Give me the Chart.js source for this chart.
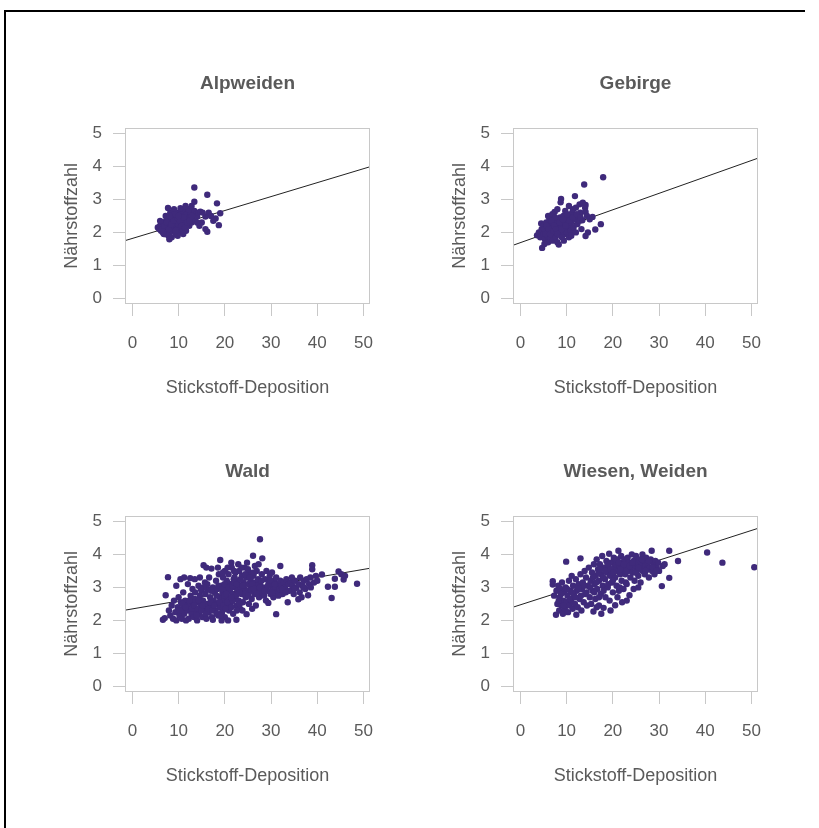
<!DOCTYPE html>
<html>
<head>
<meta charset="utf-8">
<script src="https://cdn.jsdelivr.net/npm/chart.js@4"></script>
<style>
  html, body { margin: 0; background: #fff; overflow: hidden; }
  body { width: 819px; height: 828px; position: relative; }
  #frame { position: absolute; left: 0; top: 0; }
  canvas { position: absolute; }
</style>
</head>
<body>
<svg id="frame" width="819" height="828"><path d="M805 11 H5 V828" fill="none" stroke="#000" stroke-width="2"/></svg>
<canvas id="c1" width="370" height="370" style="left:20px;top:50px"></canvas>
<canvas id="c2" width="370" height="370" style="left:408px;top:50px"></canvas>
<canvas id="c3" width="370" height="370" style="left:20px;top:438px"></canvas>
<canvas id="c4" width="370" height="370" style="left:408px;top:438px"></canvas>
<script>
const panelTitles = ['Alpweiden', 'Gebirge', 'Wald', 'Wiesen, Weiden'];
const xAxisTitle = 'Stickstoff-Deposition';
const yAxisTitle = 'Nährstoffzahl';
const xTicks = [0, 10, 20, 30, 40, 50];
const yTicks = [0, 1, 2, 3, 4, 5];
const xRange = [-1.6, 51.4];
const yRange = [-0.17, 5.17];

// regression line, y value at both ends of xRange
const fitAlpweiden = [1.75, 3.99];
const fitGebirge = [1.61, 4.25];
const fitWald = [2.31, 3.58];
const fitWiesen = [2.40, 4.79];

// [Stickstoff-Deposition, Nährstoffzahl]
const alpweiden = [
  [5.5,2.15],[5.8,2.1],[6.0,2.2],[6.2,2.05],[6.3,2.25],[6.5,2.15],[6.6,2.0],[6.8,2.3],[7.0,2.1],[7.0,1.95],
  [7.2,2.2],[7.3,2.35],[7.5,2.05],[7.5,2.25],[7.7,2.15],[7.8,1.9],[7.9,2.4],[8.0,2.3],[8.0,2.0],[8.2,2.2],
  [8.3,2.1],[8.5,2.35],[8.5,1.85],[8.6,2.45],[8.7,2.05],[8.8,2.25],[9.0,2.15],[9.0,2.4],[9.2,2.3],[9.3,1.95],
  [9.4,2.5],[9.5,2.2],[9.6,2.1],[9.8,2.35],[9.9,2.6],[10.0,2.25],[10.1,2.0],[10.2,2.45],[10.4,2.15],[10.5,2.55],
  [10.6,2.3],[10.8,2.4],[10.9,2.1],[11.0,2.65],[11.2,2.25],[11.3,2.5],[11.5,2.35],[11.6,2.05],[11.8,2.55],[12.0,2.4],
  [12.1,2.7],[12.3,2.2],[12.5,2.5],[12.6,2.6],[12.8,2.3],[13.0,2.45],[13.2,2.55],[13.4,2.65],[13.5,2.4],[13.8,2.55],
  [14.0,2.48],[14.3,2.6],[14.7,2.63],[12.2,2.7],[10.4,2.73],[13.4,2.93],[13.4,3.36],[16.2,3.14],[18.3,2.88],[7.7,2.74],
  [18.7,2.22],[16.2,2.02],[15.8,2.1],[8.0,1.79],[19.0,2.58],[18.0,2.42],[15.8,2.48],[17.5,2.35],[17.0,2.5],[16.5,2.6],
  [15.0,2.3],[14.5,2.2],[11.0,1.95],[9.8,1.9],[6.0,2.35],[7.2,2.5],[8.2,2.6],[9.0,2.7],[12.8,2.8],[11.5,2.8],[6.8,1.95],
  [6.4,2.1],[6.9,2.2],[7.4,2.3],[7.9,2.1],[8.4,2.25],[8.9,2.35],[9.4,2.05],[9.7,2.45],[10.3,2.35],[10.7,2.2],
  [11.1,2.45],[11.4,2.15],[11.9,2.3],[12.4,2.35],[9.1,2.55],[8.1,2.5],[10.0,2.5],[12.9,2.5],[14.0,2.3],[15.2,2.6]
];

const gebirge = [
  [3.6,1.91],[4.0,2.0],[4.3,1.85],[4.5,2.27],[4.6,2.1],[4.7,1.53],[5.0,1.95],[5.0,2.2],[5.3,1.8],[5.4,2.05],
  [5.6,2.3],[5.8,1.9],[5.9,2.15],[6.0,1.7],[6.2,2.0],[6.3,2.4],[6.5,1.85],[6.6,2.2],[6.8,2.05],[7.0,1.75],
  [7.0,2.3],[7.2,1.95],[7.4,2.62],[7.4,2.15],[7.6,1.85],[7.8,2.0],[7.9,2.35],[8.0,1.7],[8.2,2.2],[8.3,1.63],
  [8.4,2.05],[8.6,2.45],[8.7,2.91],[8.8,3.01],[8.8,1.9],[9.0,2.25],[9.1,2.1],[9.3,2.5],[9.5,1.95],[9.6,2.3],
  [9.7,2.65],[9.9,2.15],[10.0,2.0],[10.2,2.4],[10.4,2.2],[10.5,1.85],[10.7,2.5],[10.9,2.05],[11.0,2.3],[11.2,2.6],
  [11.4,2.7],[11.5,2.15],[11.8,3.1],[11.8,2.4],[12.0,2.0],[12.3,2.25],[12.5,2.5],[12.8,2.35],[13.0,2.6],[13.2,2.1],
  [13.4,2.37],[13.8,3.45],[14.0,2.75],[14.1,2.83],[14.1,2.62],[14.1,1.89],[14.4,2.5],[14.6,2.0],[15.0,2.4],[15.6,2.47],
  [16.2,2.09],[17.4,2.25],[17.9,3.67],[6.0,2.5],[6.9,2.55],[8.0,2.7],[10.5,2.8],[12.8,2.85],[5.2,1.65],[9.4,1.75],
  [11.0,1.9],[7.5,2.45],[12.0,2.75],[13.5,2.9],
  [5.1,2.1],[5.5,1.95],[5.7,2.2],[6.1,2.1],[6.4,1.95],[6.7,2.35],[7.1,2.05],[7.3,2.2],[7.7,2.1],[8.1,1.95],
  [8.5,2.3],[8.9,2.1],[9.2,2.4],[9.8,2.2],[10.1,2.55],[10.6,2.35],[11.3,2.45],[12.2,2.55],[13.0,2.45],[9.0,1.85]
];

const wald = [
  [6.6,2.02],[7.0,2.07],[7.2,2.76],[7.7,3.31],[7.9,2.3],[8.2,2.15],[8.5,2.45],[8.8,2.05],[9.0,2.6],[9.3,2.25],
  [9.5,2.0],[9.8,2.4],[10.0,2.7],[10.2,2.15],[10.5,2.55],[10.7,2.05],[10.9,2.35],[11.0,2.85],[11.2,2.2],[11.4,2.6],
  [11.6,2.0],[11.8,2.45],[12.0,3.1],[12.0,2.3],[9.5,3.05],[10.4,3.25],[11.2,3.3],[12.5,3.28],[13.5,3.25],[14.6,3.3],
  [12.2,2.05],[12.4,2.5],[12.6,2.75],[12.8,2.2],[13.0,2.95],[13.1,2.4],[13.3,2.1],[13.5,2.65],[13.6,2.85],[13.8,2.3],
  [14.0,2.0],[14.1,2.55],[14.3,3.05],[14.5,2.2],[14.6,2.75],[14.8,2.45],[15.0,2.9],[15.1,2.1],[15.3,2.6],[15.4,3.67],
  [15.5,2.35],[15.7,3.15],[15.8,2.8],[16.0,3.6],[16.0,2.05],[16.2,2.5],[16.3,2.95],[16.5,2.25],[16.6,3.3],[16.8,2.7],
  [17.0,2.4],[17.1,3.57],[17.2,2.1],[17.4,2.02],[17.4,3.0],[17.6,2.6],[17.8,2.85],[13.2,2.55],[14.4,2.6],[15.6,2.5],
  [18.0,2.3],[18.1,3.2],[18.3,2.5],[18.4,2.95],[18.6,2.15],[18.7,3.4],[18.9,2.7],[19.0,3.83],[19.0,2.4],[19.2,3.05],
  [19.4,2.25],[19.5,2.85],[19.6,3.3],[19.8,2.6],[20.0,3.5],[20.0,2.1],[20.2,2.95],[20.3,2.45],[20.5,3.15],[20.6,2.7],
  [20.8,3.4],[20.9,2.3],[21.0,2.9],[21.2,3.1],[21.3,2.55],[21.5,3.6],[21.6,2.8],[21.8,2.2],[21.9,3.25],[22.0,2.65],
  [22.2,3.0],[22.3,3.45],[22.5,2.02],[22.5,2.45],[22.7,2.9],[22.8,3.2],[23.0,2.6],[23.1,3.5],[23.3,2.35],[23.4,3.05],
  [23.6,2.8],[23.7,3.35],[23.9,2.55],[24.0,3.15],[24.2,2.95],[24.3,3.6],[24.5,2.7],[24.7,2.19],[24.7,3.3],[24.9,2.85],
  [25.0,3.1],[25.2,2.5],[25.3,3.45],[25.5,2.95],[25.6,3.2],[25.8,2.65],[26.0,3.0],[26.1,3.96],[26.2,3.35],[26.4,2.8],
  [26.6,3.15],[26.7,2.45],[26.9,3.5],[27.0,2.95],[27.2,3.25],[27.4,2.7],[27.6,4.46],[27.6,3.1],[27.8,2.85],[28.0,3.4],
  [28.1,3.88],[18.5,3.6],[19.3,2.0],[20.7,2.0],[21.4,3.75],[22.9,3.7],[23.8,2.3],[24.8,3.75],[25.9,2.35],[26.5,3.65],
  [27.3,3.7],[19.9,2.75],[21.1,2.95],[22.4,2.75],[23.5,3.0],[24.6,2.9],[25.7,2.9],[26.8,3.05],[20.4,3.2],[22.1,3.3],
  [28.3,3.0],[28.5,2.75],[28.7,3.25],[28.9,2.6],[29.0,3.5],[29.2,2.9],[29.4,2.53],[29.5,3.15],[29.7,3.35],[29.9,2.8],
  [30.0,3.05],[30.2,3.45],[30.4,2.95],[30.5,2.7],[30.7,3.2],[30.9,3.0],[31.1,2.19],[31.1,3.3],[31.3,2.85],[31.5,3.1],
  [31.8,2.95],[32.0,3.65],[32.0,3.2],[32.3,3.05],[32.5,2.8],[32.8,3.15],[33.0,3.0],[33.3,3.25],[33.6,2.55],[33.8,3.1],
  [34.0,2.9],[34.3,3.15],[34.6,3.05],[34.9,2.8],[35.2,3.2],[35.5,3.0],[35.9,2.64],[36.0,3.1],[36.3,3.3],[36.6,2.7],
  [36.8,3.05],[37.1,3.2],[37.4,2.95],[37.7,3.25],[38.0,2.76],[38.2,3.1],[38.5,3.3],[38.9,3.67],[38.9,3.55],[39.3,3.15],
  [39.7,3.35],[40.0,3.2],[41.0,3.39],[42.3,3.02],[43.1,2.68],[43.8,3.26],[43.8,3.02],[44.6,3.48],[45.2,3.4],[45.7,3.24],
  [46.0,3.35],[48.6,3.11],
  [10.3,2.3],[10.8,2.5],[11.5,2.4],[12.3,2.6],[12.9,2.35],[13.4,2.45],[13.9,2.15],[14.2,2.35],[14.9,2.3],[15.2,2.45],
  [15.9,2.2],[16.4,2.35],[16.9,2.55],[17.3,2.3],[17.7,2.45],[18.2,2.2],[18.8,2.55],[19.1,2.15],[19.7,2.45],[20.1,2.35],
  [20.6,2.55],[21.4,2.4],[21.7,2.6],[22.6,2.3],[23.2,2.5],[18.2,2.75],[18.6,3.05],[19.4,2.95],[19.9,3.1],[20.3,2.8],
  [20.9,3.0],[21.4,2.7],[21.7,3.05],[22.0,3.15],[22.6,3.1],[23.1,2.85],[23.4,3.25],[23.9,3.05],[24.4,2.8],[24.4,3.4],
  [25.1,2.75],[25.4,3.3],[25.9,3.1],[26.3,2.95],[26.9,2.8],[27.5,3.0],[27.9,3.2],[28.6,2.9],[29.3,3.05],[29.8,3.2],
  [30.3,2.85],[30.8,3.1],[31.6,2.75],[32.4,2.95],[33.2,2.85],[34.5,3.3],[35.0,2.95],[36.2,2.85],[37.0,3.0],[38.6,3.0],
  [16.2,3.1],[17.0,2.9],[15.4,3.0],[14.8,2.95],[19.6,3.45],[20.6,3.6],[22.0,3.5],[23.6,3.6],[25.0,3.55],[26.3,3.45]
];

const wiesen = [
  [7.0,3.19],[7.0,3.09],[7.3,2.75],[7.7,2.17],[7.8,2.9],[8.0,2.5],[8.2,3.05],[8.4,2.3],[8.5,2.7],[8.7,2.95],
  [8.9,2.45],[9.0,3.15],[9.2,2.2],[9.3,2.6],[9.5,2.85],[9.6,2.35],[9.8,3.0],[9.9,3.78],[10.0,2.55],[10.2,2.75],
  [10.3,2.25],[10.5,3.2],[10.6,2.45],[10.8,2.9],[11.0,2.6],[11.1,3.35],[11.3,2.35],[11.4,3.05],[11.6,2.75],[11.8,2.5],
  [12.0,3.25],[12.1,2.17],[12.2,2.9],[12.4,2.4],[12.6,3.1],[12.8,2.65],[13.0,3.4],[13.0,3.88],[13.2,2.3],[13.3,2.95],
  [13.5,3.15],[13.7,2.55],[13.9,3.5],[14.0,2.8],[14.2,3.3],[14.4,2.45],[14.6,3.05],[14.8,3.6],[15.0,2.7],[15.2,3.2],
  [15.3,2.5],[15.5,3.45],[15.6,2.9],[15.8,2.27],[15.9,3.7],[16.0,3.1],[16.2,2.65],[16.3,3.35],[16.5,3.85],[16.6,2.95],
  [16.8,3.55],[17.0,2.45],[17.0,3.2],[17.2,3.7],[17.4,2.8],[17.5,3.4],[17.7,3.95],[17.8,3.05],[18.0,2.38],[18.1,3.6],
  [18.3,3.25],[18.4,2.7],[18.6,3.8],[18.7,3.45],[18.9,3.0],[19.0,3.65],[19.2,4.02],[19.3,2.6],[19.4,3.35],[19.6,3.75],
  [19.8,3.15],[19.9,3.5],[20.0,2.85],[20.2,3.9],[20.3,3.6],[20.5,2.46],[20.5,3.3],[20.7,3.7],[20.8,3.05],[21.0,3.85],
  [21.1,3.5],[21.2,4.11],[21.3,2.9],[21.5,3.65],[21.6,3.4],[21.8,3.95],[21.9,3.2],[22.0,3.75],[22.2,3.55],[22.3,2.95],
  [22.5,3.85],[22.7,3.4],[22.8,3.65],[23.0,3.1],[23.2,3.9],[23.3,3.5],[23.5,3.75],[23.6,2.76],[23.8,3.3],[24.0,3.6],
  [24.1,4.0],[24.3,3.45],[24.5,3.8],[24.7,3.2],[24.8,3.65],[25.0,3.95],[25.2,3.5],[25.4,3.75],[25.5,3.35],[25.7,3.85],
  [25.9,3.6],[26.0,3.15],[26.2,3.7],[26.4,4.0],[26.5,3.5],[26.7,3.8],[26.9,3.4],[27.0,3.65],[27.2,3.9],[27.4,3.55],
  [27.6,3.75],[27.8,3.3],[28.0,3.6],[28.2,3.85],[28.4,4.11],[28.5,3.5],[28.8,3.7],[29.0,3.4],[29.2,3.8],[29.5,3.6],
  [29.8,3.75],[30.0,3.5],[30.6,3.04],[30.8,3.65],[31.2,3.7],[32.2,4.11],[32.2,3.29],[34.1,3.8],[40.4,4.06],[43.7,3.75],
  [50.6,3.61],[23.0,2.6],[22.0,2.55],[21.0,2.7],[19.5,2.3],[17.5,2.2],[16.5,2.4],[24.5,2.95],[25.5,3.0],
  [8.3,2.6],[8.8,2.8],[9.4,2.45],[10.1,2.95],[10.7,2.65],[11.2,2.85],[11.9,2.7],[12.5,2.95],[13.1,2.75],[13.8,3.05],
  [14.3,2.85],[15.1,3.0],[15.7,3.3],[16.4,3.15],[16.9,3.45],[17.3,3.55],[17.9,3.3],[18.4,3.5],[18.9,3.7],[19.5,3.55],
  [20.1,3.45],[20.6,3.85],[21.3,3.75],[21.7,3.55],[22.4,3.7],[22.9,3.5],[23.6,3.65],[24.2,3.75],[24.9,3.45],[25.6,3.6],
  [26.3,3.85],[27.1,3.5],[27.8,3.8],[28.6,3.6],[29.4,3.5],[20.0,3.2],[19.0,3.1],[18.0,2.9],[17.0,2.7],[16.0,2.85],
  [21.5,3.0],[22.8,3.15]
];

const fontFamily = '"Liberation Sans", Arial, sans-serif';
const textGrey = '#5a5a5a';
const tickGrey = '#c8c8c8';
const dotColor = '#3f2a7b';

// light grey frame around the plot region, like R's box()
const boxPlugin = {
  id: 'box',
  afterDatasetsDraw(chart) {
    const a = chart.chartArea;
    const ctx = chart.ctx;
    ctx.save();
    ctx.strokeStyle = tickGrey;
    ctx.lineWidth = 1;
    ctx.strokeRect(Math.round(a.left) + 0.5, Math.round(a.top) + 0.5,
                   Math.round(a.right - a.left) - 1, Math.round(a.bottom - a.top) - 1);
    ctx.restore();
  }
};

function makeChart(id, title, points, fitY) {
  const ctx = document.getElementById(id).getContext('2d');
  return new Chart(ctx, {
    type: 'scatter',
    data: {
      datasets: [{
        data: points.map(([x, y]) => ({x: x, y: y})),
        backgroundColor: dotColor,
        borderWidth: 0,
        pointRadius: 3.2
      }, {
        data: xRange.map((x, i) => ({x: x, y: fitY[i]})),
        showLine: true,
        borderColor: '#222',
        borderWidth: 1,
        pointRadius: 0
      }]
    },
    options: {
      responsive: false,
      animation: false,
      devicePixelRatio: 1,
      layout: { padding: { left: 0, right: 20, top: 0, bottom: 16 } },
      plugins: {
        legend: { display: false },
        tooltip: { enabled: false },
        title: {
          display: true,
          fullSize: false,
          text: title,
          color: textGrey,
          font: { family: fontFamily, size: 19, weight: 'bold', lineHeight: 1.2 },
          padding: { top: 22, bottom: 33 }
        }
      },
      scales: {
        x: {
          type: 'linear',
          min: xRange[0],
          max: xRange[1],
          afterBuildTicks: s => { s.ticks = xTicks.map(v => ({value: v})); },
          afterFit: s => { s.height = 100; s.paddingLeft = 0; s.paddingRight = 0; },
          grid: { drawOnChartArea: false, tickLength: 12, color: tickGrey, tickColor: tickGrey },
          border: { display: false },
          ticks: { color: textGrey, padding: 17, font: { family: fontFamily, size: 17 } },
          title: {
            display: true, text: xAxisTitle, color: textGrey,
            font: { family: fontFamily, size: 18, lineHeight: 1.2 },
            padding: { top: 0, bottom: 5 }
          }
        },
        y: {
          type: 'linear',
          min: yRange[0],
          max: yRange[1],
          afterBuildTicks: s => { s.ticks = yTicks.map(v => ({value: v})); },
          afterFit: s => { s.width = 105; s.paddingTop = 0; s.paddingBottom = 0; },
          grid: { drawOnChartArea: false, tickLength: 12, color: tickGrey, tickColor: tickGrey },
          border: { display: false },
          ticks: { color: textGrey, padding: 11, font: { family: fontFamily, size: 17 } },
          title: {
            display: true, text: yAxisTitle, color: textGrey,
            font: { family: fontFamily, size: 18, lineHeight: 1.2 },
            padding: { top: 41, bottom: 0 }
          }
        }
      }
    },
    plugins: [boxPlugin]
  });
}

makeChart('c1', panelTitles[0], alpweiden, fitAlpweiden);
makeChart('c2', panelTitles[1], gebirge, fitGebirge);
makeChart('c3', panelTitles[2], wald, fitWald);
makeChart('c4', panelTitles[3], wiesen, fitWiesen);
</script>
</body>
</html>
